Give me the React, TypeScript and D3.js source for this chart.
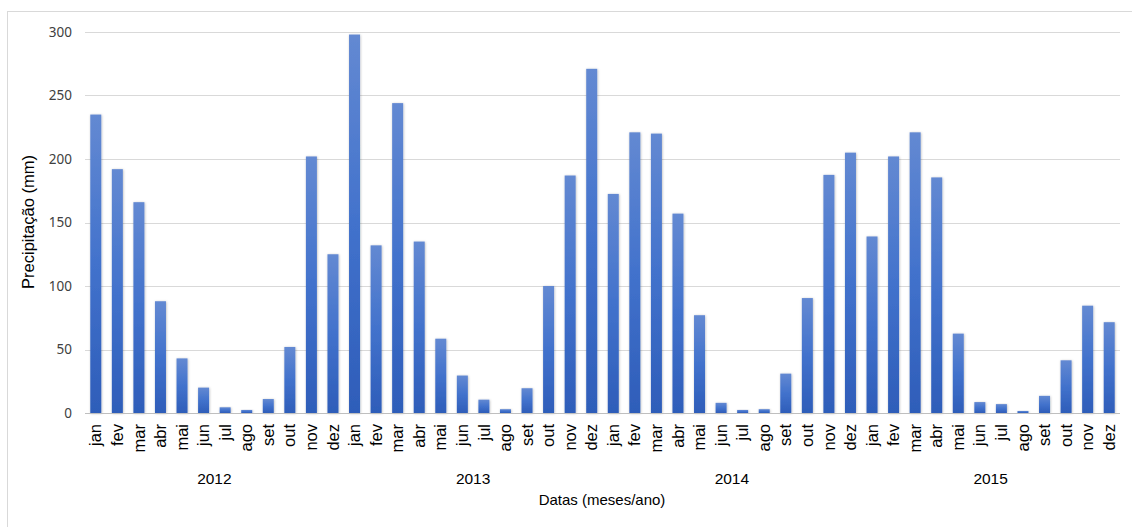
import React from "react";
import * as d3 from "d3";

const years = ["2012", "2013", "2014", "2015"];
const months = ["jan", "fev", "mar", "abr", "mai", "jun", "jul", "ago", "set", "out", "nov", "dez"];
const values2012 = [235, 192, 166, 88, 43, 20, 4.5, 2.4, 11, 52, 202, 125];
const values2013 = [298, 132, 244, 135, 58.5, 29.5, 10.5, 3, 19.5, 100, 187, 271];
const values2014 = [172.5, 221, 220, 157, 77, 8, 2.4, 3, 31, 90.5, 187.5, 205];
const values2015 = [139, 202, 221, 185.5, 62.5, 8.6, 7, 1.6, 13.5, 41.5, 84.5, 71.5];
const yTicks = [0, 50, 100, 150, 200, 250, 300];

const seriesByYear = [values2012, values2013, values2014, values2015];

type Row = { key: string; year: string; month: string; value: number };
const rows: Row[] = [];
years.forEach((y, yi) => {
  months.forEach((m, mi) => {
    rows.push({ key: `${y}-${m}`, year: y, month: m, value: seriesByYear[yi][mi] });
  });
});

const W = 1132;
const H = 527;
const plotLeft = 85;
const plotRight = 1120;
const plotTop = 32;
const plotBottom = 413;

export default function App() {
  const x = d3
    .scaleBand<string>()
    .domain(rows.map((r) => r.key))
    .range([plotLeft, plotRight])
    .paddingInner(0.49)
    .paddingOuter(0.245);
  const y = d3.scaleLinear().domain([0, 300]).range([plotBottom, plotTop]);
  const step = x.step();

  const labelFont = "'Liberation Sans', Arial, sans-serif";
  const monthSize = 16.5;

  return (
    <svg
      width={W}
      height={H}
      style={{ position: "absolute", left: 0, top: 0, background: "#fff" }}
    >
      <defs>
        <linearGradient id="barGrad" x1="0" y1="0" x2="0" y2="1">
          <stop offset="0%" stopColor="#6389d2" />
          <stop offset="50%" stopColor="#4272cc" />
          <stop offset="100%" stopColor="#2e5db9" />
        </linearGradient>
        <filter id="shadow" x="-50%" y="-10%" width="200%" height="120%">
          <feDropShadow dx="0.5" dy="0.5" stdDeviation="1" floodColor="#000" floodOpacity="0.28" />
        </filter>
      </defs>
      <rect x={7.5} y={11.5} width={1140} height={540} fill="#fff" stroke="#d9d9d9" strokeWidth={1} />

      {yTicks.map((t) => (
        <g key={t}>
          {t > 0 && (
            <line
              x1={plotLeft}
              x2={plotRight}
              y1={Math.round(y(t)) + 0.5}
              y2={Math.round(y(t)) + 0.5}
              stroke="#d9d9d9"
              strokeWidth={1.2}
            />
          )}
          <text
            x={72}
            y={y(t)}
            dy="0.35em"
            textAnchor="end"
            fontFamily="'Noto Sans', sans-serif"
            fontSize={13.5}
            fill="#404040"
          >
            {t}
          </text>
        </g>
      ))}

      {rows.map((r) => (
        <rect
          key={r.key}
          x={x(r.key)}
          y={y(r.value)}
          width={x.bandwidth()}
          height={plotBottom - y(r.value)}
          fill="url(#barGrad)"
          filter="url(#shadow)"
        />
      ))}

      <line x1={plotLeft} x2={plotRight} y1={plotBottom + 0.5} y2={plotBottom + 0.5} stroke="#bfbfbf" strokeWidth={1} />

      {rows.map((r) => {
        const cx = (x(r.key) as number) + x.bandwidth() / 2;
        return (
          <text
            key={"l" + r.key}
            transform={`translate(${cx + monthSize * 0.34},${424}) rotate(-90)`}
            textAnchor="end"
            fontFamily={labelFont}
            fontSize={monthSize}
            fill="#000"
          >
            {r.month}
          </text>
        );
      })}

      {years.map((yr, i) => {
        const cx = plotLeft + step * (i * 12 + 6);
        return (
          <text
            key={yr}
            x={cx}
            y={484}
            textAnchor="middle"
            fontFamily={labelFont}
            fontSize={15.5}
            fill="#000"
          >
            {yr}
          </text>
        );
      })}

      <text x={602} y={505} textAnchor="middle" fontFamily={labelFont} fontSize={15} fill="#000">
        Datas (meses/ano)
      </text>
      <text
        transform={`translate(${34},${222}) rotate(-90)`}
        textAnchor="middle"
        fontFamily={labelFont}
        fontSize={16.5}
        fill="#000"
      >
        Precipitação (mm)
      </text>
    </svg>
  );
}
